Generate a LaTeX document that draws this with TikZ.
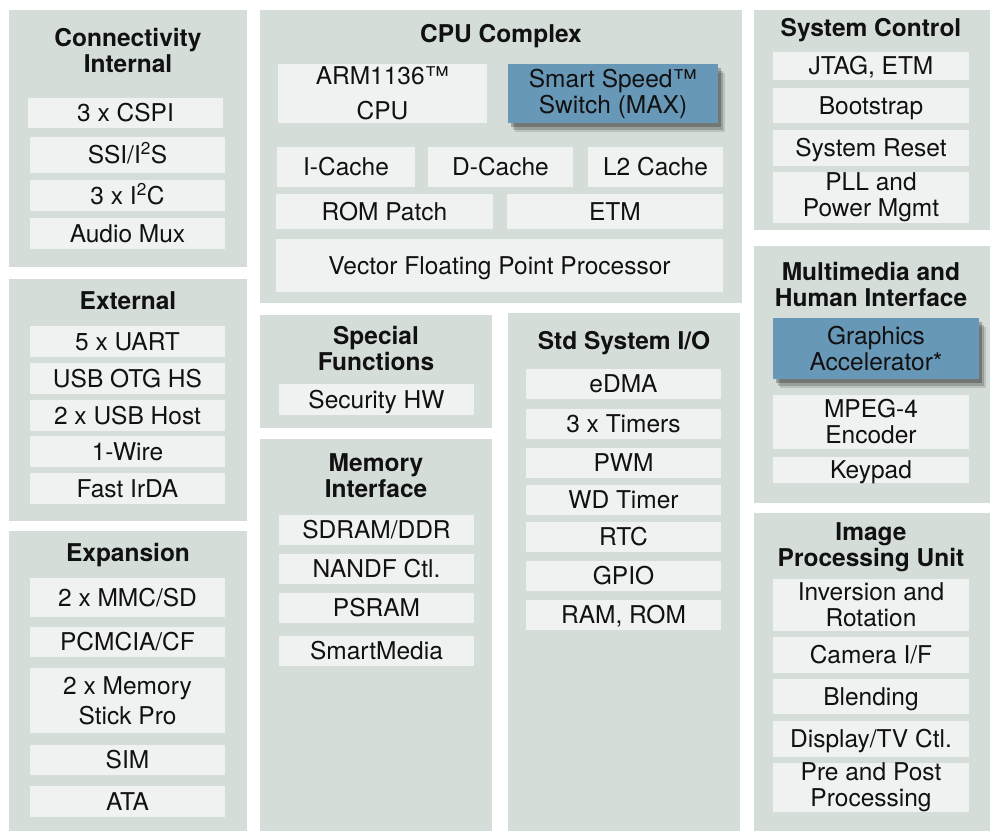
\documentclass[tikz,border=0pt]{standalone}
\usepackage{fontspec}
\setmainfont{TeX Gyre Heros}
\definecolor{panelgray}{RGB}{213, 221, 217}
\definecolor{itemwhite}{RGB}{239, 242, 241}
\definecolor{maxblue}{RGB}{104, 152, 184}
\definecolor{inkblack}{RGB}{17, 17, 17}
\usetikzlibrary{shadows}

\begin{document}
\begin{tikzpicture}[x=1pt, y=-1pt,
  spot/.style args={#1,#2,#3,#4}{at={({(#1+#3)/2},{(#2+#4)/2})}, minimum width={(#3-#1)*1pt}, minimum height={(#4-#2)*1pt}},
  panel/.style={fill=panelgray, inner sep=0pt},
  ttl/.style={font=\bfseries\fontsize{24.5}{26}\selectfont, align=center, inner sep=0pt, text=inkblack},
  item/.style={fill=itemwhite, inner sep=0pt, text=inkblack, font=\fontsize{24.5}{26}\selectfont, text height=17.6pt, text depth=0pt},
  item2/.style={fill=itemwhite, inner sep=0pt, text=inkblack, font=\fontsize{24.5}{26}\selectfont, align=center},
  hot/.style={item2, fill=maxblue,
    drop shadow={shadow xshift=7pt, shadow yshift=-9pt, opacity=0.12, fill=black},
    drop shadow={shadow xshift=5pt, shadow yshift=-7pt, opacity=0.18, fill=black},
    drop shadow={shadow xshift=3pt, shadow yshift=-4pt, opacity=0.25, fill=black}}]
  \fill[white] (0,0) rectangle (991,831);
  \useasboundingbox (0,0) rectangle (991,831);

  % left column
  \node[panel, spot={9,10,247,267}] (conn) {};
  \node[ttl] (conn-t) at (128,50) {Connectivity\\Internal};
  \node[item, spot={28,98,223,128}] (cspi) {3 x CSPI};
  \node[item, spot={30,137,225,173}] (ssi) {SSI/I\textsuperscript{2}S};
  \node[item, spot={30,180,225,211}] (i2c) {3 x I\textsuperscript{2}C};
  \node[item, spot={30,218,225,249}] (amux) {Audio Mux};

  \node[panel, spot={9,279,247,521}] (ext) {};
  \node[ttl] (ext-t) at (128,301) {External};
  \node[item, spot={30,326,225,357}] (uart) {5 x UART};
  \node[item, spot={30,363,225,394}] (otg) {USB OTG HS};
  \node[item, spot={30,400,225,431}] (host) {2 x USB Host};
  \node[item, spot={30,436,225,467}] (wire) {1-Wire};
  \node[item, spot={30,473,225,504}] (irda) {Fast IrDA};

  \node[panel, spot={9,531,247,831}] (exp) {};
  \node[ttl] (exp-t) at (128,555) {Expansion};
  \node[item, spot={30,578,225,617}] (mmc) {2 x MMC/SD};
  \node[item, spot={30,627,225,657}] (pcm) {PCMCIA/CF};
  \node[item2, spot={30,668,225,733}, font=\fontsize{24.5}{30}\selectfont] (stick) {2 x Memory\\Stick Pro};
  \node[item, spot={30,745,225,775}] (sim) {SIM};
  \node[item, spot={30,786,225,817}] (ata) {ATA};

  % cpu complex
  \node[panel, spot={260,10,742,303}] (cpu) {};
  \node[ttl] (cpu-t) at (501,36) {CPU Complex};
  \node[item2, spot={278,64,487,123}, font=\fontsize{24.5}{35}\selectfont] (arm) {ARM1136\texttrademark\\CPU};
  \node[hot, spot={508,64,718,123}] (max) {Smart Speed\texttrademark\\Switch (MAX)};
  \node[item, spot={277,147,415,187}] (icache) {I-Cache};
  \node[item, spot={428,147,573,187}] (dcache) {D-Cache};
  \node[item, spot={588,147,723,187}] (l2) {L2 Cache};
  \node[item, spot={276,194,493,229}] (rom) {ROM Patch};
  \node[item, spot={507,194,723,229}] (etm) {ETM};
  \node[item, spot={276,239,723,292}] (vfp) {Vector Floating Point Processor};

  % middle columns
  \node[panel, spot={260,315,492,428}] (spec) {};
  \node[ttl] (spec-t) at (376,348) {Special\\Functions};
  \node[item, spot={279,384,474,415}] (sec) {Security HW};

  \node[panel, spot={260,439,492,831}] (mem) {};
  \node[ttl] (mem-t) at (376,476) {Memory\\Interface};
  \node[item, spot={279,515,474,545}] (sdram) {SDRAM/DDR};
  \node[item, spot={279,554,474,584}] (nand) {NANDF Ctl.};
  \node[item, spot={279,593,474,623}] (psram) {PSRAM};
  \node[item, spot={279,636,474,666}] (smedia) {SmartMedia};

  \node[panel, spot={508,313,740,831}] (std) {};
  \node[ttl] (std-t) at (624,343) {Std System I/O};
  \node[item, spot={526,369,721,399}] (edma) {eDMA};
  \node[item, spot={526,409,721,439}] (tim) {3 x Timers};
  \node[item, spot={526,448,721,478}] (pwm) {PWM};
  \node[item, spot={526,485,721,515}] (wdt) {WD Timer};
  \node[item, spot={526,522,721,552}] (rtc) {RTC};
  \node[item, spot={526,561,721,591}] (gpio) {GPIO};
  \node[item, spot={526,600,721,630}] (ramrom) {RAM, ROM};

  % right column
  \node[panel, spot={754,10,990,230}] (sys) {};
  \node[ttl] (sys-t) at (871,30) {System Control};
  \node[item, spot={773,52,969,80}] (jtag) {JTAG, ETM};
  \node[item, spot={773,88,969,123}] (boot) {Bootstrap};
  \node[item, spot={773,130,969,166}] (reset) {System Reset};
  \node[item2, spot={773,172,969,223}] (pll) {PLL and\\Power Mgmt};

  \node[panel, spot={754,246,990,503}] (mm) {};
  \node[ttl] (mm-t) at (871,284) {Multimedia and\\Human Interface};
  \node[hot, spot={773,318,979,379}] (gfx) {Graphics\\Accelerator*};
  \node[item2, spot={773,395,969,449}] (mpeg) {MPEG-4\\Encoder};
  \node[item, spot={773,457,969,483}] (key) {Keypad};

  \node[panel, spot={754,513,990,831}] (ipu) {};
  \node[ttl] (ipu-t) at (871,547) {Image\\Processing Unit};
  \node[item2, spot={773,579,969,631}] (inv) {Inversion and\\Rotation};
  \node[item, spot={773,637,969,673}] (cam) {Camera I/F};
  \node[item, spot={773,679,969,714}] (blend) {Blending};
  \node[item, spot={773,721,969,757}] (disp) {Display/TV Ctl.};
  \node[item2, spot={773,763,969,812}] (pre) {Pre and Post\\Processing};
\end{tikzpicture}
\end{document}
